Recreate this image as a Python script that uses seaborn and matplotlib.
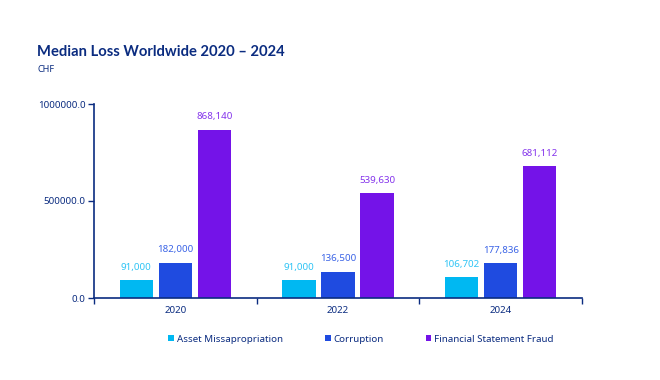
import pandas as pd
import matplotlib.pyplot as plt
import seaborn as sns
from matplotlib.ticker import FuncFormatter, FixedLocator

years = ['2020', '2022', '2024']
categories = ['Asset Missapropriation', 'Corruption', 'Financial Statement Fraud']
asset = [91000, 91000, 106702]
corruption = [182000, 136500, 177836]
fraud = [868140, 539630, 681112]

colors = ['#00B8F2', '#1F4BE0', '#7413E8']
label_colors = ['#2EC4F5', '#3A63E6', '#8433EC']
navy = '#0B2C80'

df = pd.DataFrame({
    'Year': years * 3,
    'Category': [c for c in categories for _ in years],
    'Value': asset + corruption + fraud,
})

sns.set_style('white')
plt.rcParams['font.family'] = ['Noto Sans', 'DejaVu Sans']

fig = plt.figure(figsize=(6.6, 3.8), dpi=100)
ax = fig.add_axes([94 / 660, 82 / 380, 488 / 660, 194 / 380])

sns.barplot(data=df, x='Year', y='Value', hue='Category', order=years,
            hue_order=categories, palette=colors, width=0.72, gap=0.15,
            saturation=1, linewidth=0, ax=ax, legend=True)

# value labels above bars
for container, lc in zip(ax.containers, label_colors):
    labels = [f'{int(v):,}' for v in container.datavalues]
    ax.bar_label(container, labels=labels, padding=6, color=lc, fontsize=7)

ax.set_ylim(0, 1000000)
ax.set_xlim(-0.5, 2.5)
ax.set_yticks([0, 500000, 1000000])
ax.yaxis.set_major_formatter(FuncFormatter(lambda v, p: f'{v:.1f}'))
ax.set_xlabel('')
ax.set_ylabel('')

for s in ['top', 'right']:
    ax.spines[s].set_visible(False)
for s in ['left', 'bottom']:
    ax.spines[s].set_color(navy)
    ax.spines[s].set_linewidth(1.2)

ax.tick_params(axis='y', colors=navy, labelsize=7, length=4, width=1, direction='out', left=True, pad=2)
ax.tick_params(axis='x', which='major', colors=navy, labelsize=7, length=0, pad=6)
ax.xaxis.set_minor_locator(FixedLocator([-0.5, 0.5, 1.5, 2.5]))
ax.tick_params(axis='x', which='minor', length=4, width=1, color=navy, bottom=True)

# legend below
handles, labels = ax.get_legend_handles_labels()
ax.get_legend().remove()
leg = fig.legend(handles, labels, loc='center', bbox_to_anchor=(0.547, 1 - 339 / 380),
                 ncol=3, frameon=False, fontsize=7, handlelength=0.6, handleheight=0.6,
                 handletextpad=0.3, columnspacing=4.3)
for t in leg.get_texts():
    t.set_color(navy)

fig.text(37 / 660, 1 - 52 / 380, 'Median Loss Worldwide 2020 – 2024', fontsize=10.6,
         fontweight='bold', family=['Lato', 'DejaVu Sans'], color=navy, va='center', ha='left')
fig.text(37 / 660, 1 - 70 / 380, 'CHF', fontsize=6.5, color=navy, va='center', ha='left')

fig.savefig('out.png', dpi=100)
